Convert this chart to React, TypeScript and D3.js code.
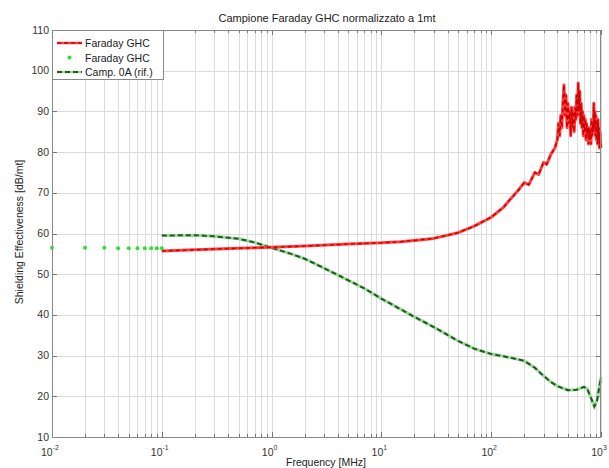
import React, { useRef, useEffect } from 'react';
import * as d3 from 'd3';

// Faraday GHC, low-frequency dots (MHz / dB/mt)
const dotFreq = [0.01, 0.02, 0.03, 0.04, 0.05, 0.06, 0.07, 0.08, 0.09, 0.1];
const dotValues = [56.5, 56.5, 56.5, 56.4, 56.4, 56.4, 56.4, 56.4, 56.4, 56.4];

// Faraday GHC, measured line
const ghcFreq = [
  0.1, 0.2, 0.5, 1, 2, 5, 10, 15, 20, 30, 50, 70, 100, 130, 150, 175, 200, 220, 250, 270, 300, 320, 350, 380,
  400, 410, 420, 430, 440, 450, 460, 470, 480, 490, 500, 510, 520, 530, 540, 550, 560, 570, 580, 590, 600,
  610, 620, 630, 640, 650, 660, 670, 680, 690, 700, 710, 720, 730, 740, 750, 760, 770, 780, 790, 800,
  810, 820, 830, 840, 850, 860, 870, 880, 890, 900, 910, 920, 930, 940, 950, 960, 970, 980, 990, 1000
];
const ghcValues = [
  55.7, 56.0, 56.4, 56.6, 56.9, 57.4, 57.7, 58.0, 58.3, 58.8, 60.2, 61.8, 64.0, 66.5, 68.5, 70.5, 72.5, 72.0, 75.0, 74.5, 77.5, 77.0, 79.5, 81.0,
  83.0, 87.0, 84.0, 89.0, 86.0, 92.0, 96.5, 89.0, 94.0, 86.0, 92.0, 87.0, 90.0, 84.0, 91.0, 86.0, 90.0, 85.0, 91.0, 88.0, 94.0,
  89.0, 97.0, 90.0, 95.0, 87.0, 92.0, 86.0, 90.0, 84.0, 89.0, 85.0, 88.0, 83.0, 87.0, 84.0, 86.0, 82.0, 86.0, 83.0, 85.0,
  82.0, 88.0, 84.0, 87.0, 85.0, 92.0, 86.0, 90.0, 84.0, 89.0, 83.0, 87.0, 82.0, 88.0, 83.0, 86.0, 81.0, 85.0, 82.0, 81.0
];

// Camp. 0A (rif.)
const refFreq = [
  0.1, 0.2, 0.3, 0.5, 0.7, 1, 1.5, 2, 3, 5, 7, 10, 20, 30, 50, 70, 100, 150, 200, 250, 300, 350, 400, 500,
  600, 700, 750, 800, 870, 920, 1000
];
const refValues = [
  59.5, 59.6, 59.3, 58.7, 57.8, 56.5, 55.0, 53.8, 51.5, 48.5, 46.5, 44.0, 39.5, 37.0, 33.6, 31.7, 30.4, 29.5, 28.7, 27.0, 25.0, 23.5, 22.5, 21.5,
  21.6, 22.3, 21.8, 20.0, 17.5, 19.0, 24.7
];

const yTicks = [10, 20, 30, 40, 50, 60, 70, 80, 90, 100, 110];
const xDecades = [-2, -1, 0, 1, 2, 3];

const legendItems = ['Faraday GHC', 'Faraday GHC', 'Camp. 0A (rif.)'];

const W = 609;
const H = 468;

function App() {
  const svgRef = useRef<SVGSVGElement>(null);

  useEffect(() => {
    const svg = d3.select(svgRef.current);
    svg.selectAll('*').remove();

    const margin = { top: 30, right: 8, bottom: 31, left: 52 };
    const font = 'Arial, "Liberation Sans", Helvetica, sans-serif';

    const x = d3.scaleLog().domain([0.01, 1000]).range([margin.left, W - margin.right]);
    const y = d3.scaleLinear().domain([10, 110]).range([H - margin.bottom, margin.top]);

    const x0 = x.range()[0], x1 = x.range()[1];
    const y0 = y.range()[0], y1 = y.range()[1];

    svg.append('rect').attr('width', W).attr('height', H).attr('fill', '#fff');

    // minor + major log positions
    const logTicks: number[] = [];
    xDecades.forEach((d, i) => {
      if (i === xDecades.length - 1) { logTicks.push(Math.pow(10, d)); return; }
      for (let k = 1; k <= 9; k++) logTicks.push(k * Math.pow(10, d));
    });

    // grid
    const grid = svg.append('g').attr('stroke', '#dcdcdc').attr('stroke-width', 1);
    logTicks.forEach(t => {
      grid.append('line')
        .attr('x1', Math.round(x(t)) + 0.5).attr('x2', Math.round(x(t)) + 0.5)
        .attr('y1', y1).attr('y2', y0);
    });
    yTicks.forEach(t => {
      grid.append('line')
        .attr('x1', x0).attr('x2', x1)
        .attr('y1', Math.round(y(t)) + 0.5).attr('y2', Math.round(y(t)) + 0.5);
    });

    // tick marks (inside, top and bottom, left and right)
    const ticks = svg.append('g').attr('stroke', '#777').attr('stroke-width', 1);
    logTicks.forEach(t => {
      const major = Math.abs(Math.log10(t) - Math.round(Math.log10(t))) < 1e-9;
      const len = major ? 5 : 3;
      const px = Math.round(x(t)) + 0.5;
      ticks.append('line').attr('x1', px).attr('x2', px).attr('y1', y0).attr('y2', y0 - len);
      ticks.append('line').attr('x1', px).attr('x2', px).attr('y1', y1).attr('y2', y1 + len);
    });
    yTicks.forEach(t => {
      const py = Math.round(y(t)) + 0.5;
      ticks.append('line').attr('x1', x0).attr('x2', x0 + 5).attr('y1', py).attr('y2', py);
      ticks.append('line').attr('x1', x1).attr('x2', x1 - 5).attr('y1', py).attr('y2', py);
    });

    // data
    const line = d3.line<[number, number]>().x(d => x(d[0])).y(d => y(d[1]));
    const ghc = ghcFreq.map((f, i) => [f, ghcValues[i]] as [number, number]);
    const ref = refFreq.map((f, i) => [f, refValues[i]] as [number, number]);

    const plot = svg.append('g');

    plot.append('path').attr('d', line(ref)).attr('fill', 'none')
      .attr('stroke', '#8fe08f').attr('stroke-width', 3);
    plot.append('path').attr('d', line(ref)).attr('fill', 'none')
      .attr('stroke', '#2f4f2f').attr('stroke-width', 2).attr('stroke-dasharray', '5,3');

    plot.append('path').attr('d', line(ghc)).attr('fill', 'none')
      .attr('stroke', '#ff4040').attr('stroke-width', 3).attr('stroke-linejoin', 'round');
    plot.append('path').attr('d', line(ghc)).attr('fill', 'none')
      .attr('stroke', '#d00000').attr('stroke-width', 1.5).attr('stroke-dasharray', '4,3');

    plot.selectAll('circle.dot')
      .data(dotFreq)
      .enter()
      .append('circle')
      .attr('class', 'dot')
      .attr('cx', (d) => x(d))
      .attr('cy', (d, i) => y(dotValues[i]))
      .attr('r', 2)
      .attr('fill', '#33dd33');

    // axes box
    svg.append('rect')
      .attr('x', x0 + 0.5).attr('y', y1 + 0.5)
      .attr('width', x1 - x0 - 1).attr('height', y0 - y1)
      .attr('fill', 'none').attr('stroke', '#888');

    // y tick labels
    yTicks.forEach(t => {
      svg.append('text')
        .attr('x', x0 - 3).attr('y', y(t) + 3.5)
        .attr('text-anchor', 'end')
        .attr('font-family', font).attr('font-size', 10.5).attr('fill', '#333')
        .text(t);
    });

    // x tick labels with superscript exponents
    xDecades.forEach(d => {
      const t = svg.append('text')
        .attr('x', x(Math.pow(10, d)) - 2).attr('y', y0 + 19)
        .attr('text-anchor', 'middle')
        .attr('font-family', font).attr('font-size', 10.5).attr('fill', '#333');
      t.append('tspan').text('10');
      t.append('tspan').attr('dy', -6).attr('font-size', 7).text(String(d));
    });

    // title and axis labels
    svg.append('text')
      .attr('x', 327).attr('y', 22)
      .attr('text-anchor', 'middle')
      .attr('font-family', font).attr('font-size', 11).attr('fill', '#222')
      .text('Campione Faraday GHC normalizzato a 1mt');

    svg.append('text')
      .attr('x', 326).attr('y', 466)
      .attr('text-anchor', 'middle')
      .attr('font-family', font).attr('font-size', 10.5).attr('fill', '#222')
      .text('Frequency [MHz]');

    svg.append('text')
      .attr('transform', `translate(23, 232) rotate(-90)`)
      .attr('text-anchor', 'middle')
      .attr('font-family', font).attr('font-size', 10.5).attr('fill', '#222')
      .text('Shielding Effectiveness [dB/mt]');

    // legend
    const lg = svg.append('g').attr('transform', `translate(${x0}, ${y1})`);
    lg.append('rect')
      .attr('x', 0.5).attr('y', 0.5).attr('width', 111).attr('height', 49)
      .attr('fill', '#fff').attr('stroke', '#888');

    const rowY = [13, 27.5, 42];
    legendItems.forEach((label, i) => {
      const ry = rowY[i];
      if (i === 0) {
        lg.append('line').attr('x1', 5).attr('x2', 30).attr('y1', ry).attr('y2', ry)
          .attr('stroke', '#ff4040').attr('stroke-width', 2.5);
        lg.append('line').attr('x1', 5).attr('x2', 30).attr('y1', ry).attr('y2', ry)
          .attr('stroke', '#d00000').attr('stroke-width', 1.5).attr('stroke-dasharray', '4,3');
      } else if (i === 1) {
        lg.append('circle').attr('cx', 17.5).attr('cy', ry).attr('r', 2).attr('fill', '#33dd33');
      } else {
        lg.append('line').attr('x1', 5).attr('x2', 30).attr('y1', ry).attr('y2', ry)
          .attr('stroke', '#8fe08f').attr('stroke-width', 2.5);
        lg.append('line').attr('x1', 5).attr('x2', 30).attr('y1', ry).attr('y2', ry)
          .attr('stroke', '#2f4f2f').attr('stroke-width', 2).attr('stroke-dasharray', '5,3');
      }
      lg.append('text')
        .attr('x', 33).attr('y', ry + 4)
        .attr('font-family', font).attr('font-size', 10.5).attr('fill', '#222')
        .text(label);
    });
  }, []);

  return (
    <svg
      ref={svgRef}
      width={W}
      height={H}
      style={{ position: 'absolute', left: 0, top: 0, display: 'block' }}
    />
  );
}

export default App;
